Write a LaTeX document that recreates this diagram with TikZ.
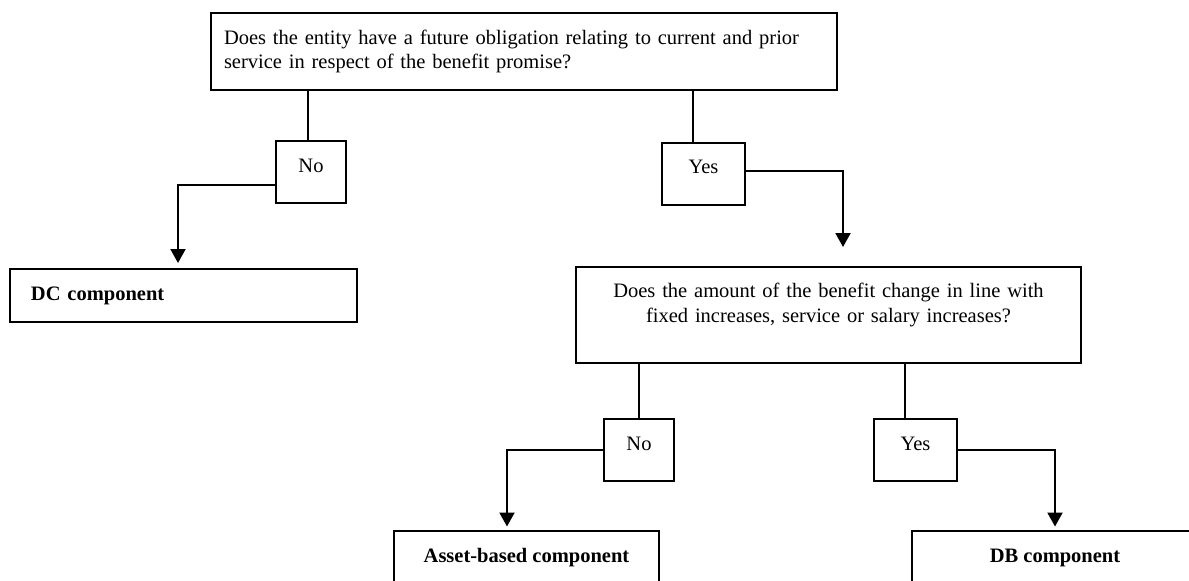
\documentclass[tikz,border=0pt]{standalone}
\usepackage{fontspec}
\setmainfont{Liberation Serif}
\usetikzlibrary{arrows.meta}

\tikzset{
  box/.style={draw, line width=1pt, inner sep=0pt, font=\fontsize{10.25}{12.25}\selectfont},
  answer/.style={box, text height=7pt, text depth=7pt, minimum height=31pt},
  result/.style={box, font=\fontsize{10.25}{12.25}\selectfont\bfseries},
  conn/.style={line width=1pt},
  arr/.style={line width=1pt, -{Triangle[length=7pt,width=7.5pt]}}
}

\begin{document}
\begin{tikzpicture}[x=0.5pt,y=-0.5pt]
			\path[use as bounding box, clip] (0,0) rectangle (1189,580);
			\node[box, minimum width=313pt, minimum height=38.5pt, text width=300pt, align=left] (oblig) at (524,51.5)
			  {Does the entity have a future obligation relating to current and prior\\service in respect of the benefit promise?};
			\node[answer, minimum width=35pt] (no1) at (311,172) {No};
			\node[answer, minimum width=41.5pt] (yes1) at (703.5,173.5) {Yes};
			\node[result, minimum width=173.5pt, minimum height=26.5pt, text width=152.5pt, align=left] (dc) at (183.5,295.5) {DC component};
			\node[box, minimum width=252.5pt, minimum height=48pt, text width=230pt, align=center] (change) at (828.5,315)
			  {Does the amount of the benefit change in line with\\fixed increases, service or salary increases?\\\mbox{}};
			\node[answer, minimum width=35pt] (no2) at (639,450) {No};
			\node[answer, minimum width=41.5pt] (yes2) at (915.5,450) {Yes};
			\node[result, minimum width=132.5pt, minimum height=27pt] (asset) at (526.5,557.5) {Asset-based component};
			\node[result, minimum width=143pt, minimum height=27pt] (db) at (1055,557.5) {DB component};
			\coordinate (t1) at ([xshift=-1.5pt]no1.north);
			\coordinate (t2) at ([xshift=-5.25pt]yes1.north);
			\coordinate (t3) at ([xshift=-5.25pt]yes2.north);
			\draw[conn] (t1) -- (t1 |- oblig.south);
			\draw[conn] (t2) -- (t2 |- oblig.south);
			\draw[conn] (no2.north) -- (no2.north |- change.south);
			\draw[conn] (t3) -- (t3 |- change.south);
			\draw[arr, shorten >=2.5pt] ([yshift=-6.5pt]no1.west) -| ([xshift=-2.75pt]dc.north);
			\draw[arr, shorten >=9.5pt] ([yshift=1.25pt]yes1.east) -| ([xshift=7.25pt]change.north);
			\draw[arr, shorten >=1.5pt] (no2.west) -| ([xshift=-9.75pt]asset.north);
			\draw[arr, shorten >=1.5pt] (yes2.east) -| (db.north);
\end{tikzpicture}
\end{document}
